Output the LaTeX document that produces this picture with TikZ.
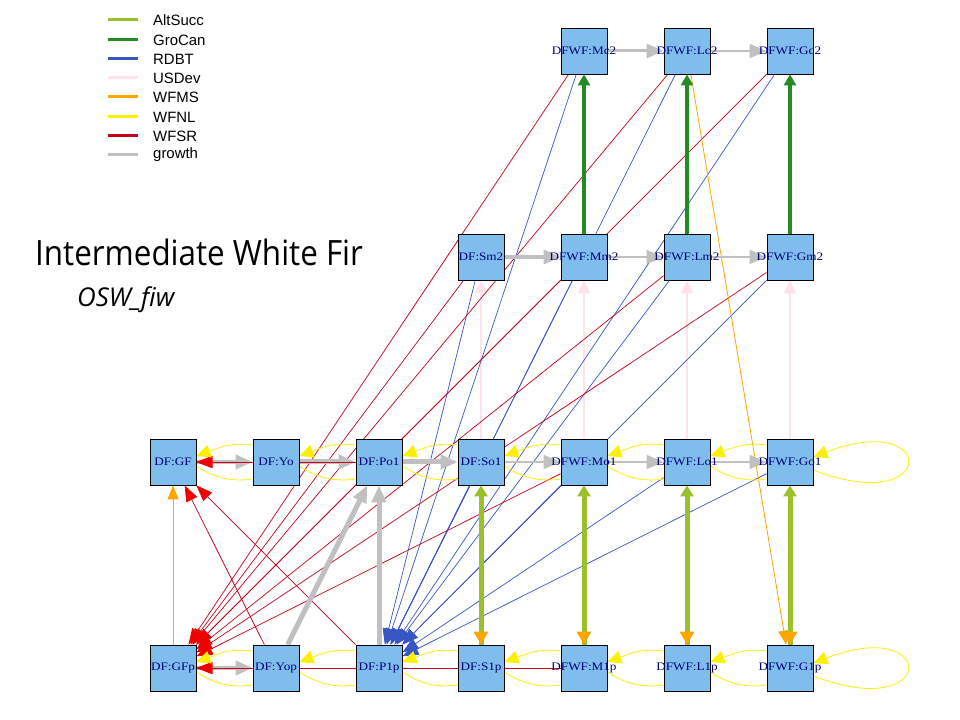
\documentclass[tikz,border=0pt]{standalone}
\usepackage{fontspec}
\usetikzlibrary{arrows.meta,calc}
\newfontfamily\nodefont[FakeStretch=1.15]{Liberation Serif}
\newfontfamily\legfont{Liberation Sans}
\newfontfamily\titlefont[FakeStretch=0.9]{Open Sans}
\newfontfamily\subfont{Open Sans}
\definecolor{boxfill}{RGB}{127,189,236}
\definecolor{boxtext}{RGB}{0,0,120}
\definecolor{cAlt}{RGB}{154,193,44}
\definecolor{cGro}{RGB}{34,139,34}
\definecolor{cRdbt}{RGB}{55,85,195}
\definecolor{cUsd}{RGB}{255,226,234}
\definecolor{cWfms}{RGB}{255,165,0}
\definecolor{cWfnl}{RGB}{250,240,0}
\definecolor{cWfsr}{RGB}{200,0,25}
\definecolor{cWfsrTip}{RGB}{240,0,0}
\definecolor{cGrowth}{RGB}{192,192,192}
\pgfdeclarelayer{bg}
\pgfsetlayers{bg,main}
\newcommand\nl[1]{\makebox[0pt][c]{#1}}
\newcommand\ylens[2]{%
  \draw[wfnltip] ($(#1.west)+(0,17)$) .. controls +(-22,3) and +(22,8) .. ($(#2.east)+(0,6)$);
  \draw[wfnl] ($(#2.east)+(0,-4)$) .. controls +(18,-12) and +(-20,-3) .. ($(#1.west)+(0,-17)$);
}
\newcommand\yloop[1]{%
  \draw[wfnltip] ($(#1.east)+(0,-8)$) .. controls +(125,-48) and +(125,48) .. ($(#1.east)+(0,5)$);
}
\begin{document}
\begin{tikzpicture}[x=1bp,y=1bp,
  box/.style={draw=black, line width=0.8bp, fill=boxfill, minimum width=46bp, minimum height=46bp, inner sep=0pt, text=boxtext, font=\nodefont\fontsize{11.5}{12}\selectfont},
  growth/.style={draw=cGrowth, -{Triangle[length=17bp,width=14bp]}},
  wfnl/.style={draw=cWfnl, line width=0.8bp},
  wfnltip/.style={wfnl, -{Triangle[length=14bp,width=13bp]}},
  wfsr/.style={draw=cWfsr, line width=0.7bp, -{Triangle[length=16bp,width=12bp,color=cWfsrTip]}},
  rdbt/.style={draw=cRdbt, line width=0.7bp, -{Triangle[length=16bp,width=12bp]}},
  usdev/.style={draw=cUsd, line width=2bp, -{Triangle[length=13bp,width=12bp]}},
  wfmsthin/.style={draw=cWfms, line width=0.8bp, -{Triangle[length=14bp,width=11bp]}},
  wfmsthick/.style={draw=cWfms, line width=4bp, -{Triangle[length=13bp,width=14bp]}},
  altsucc/.style={draw=cAlt, line width=5bp, -{Triangle[length=11bp,width=13bp]}},
  grocan/.style={draw=cGro, line width=3.5bp, -{Triangle[length=11bp,width=12bp]}},
  leglab/.style={anchor=west, font=\legfont\fontsize{15}{17}\selectfont, inner sep=0pt},
  legline/.style={line width=3bp}
]
\useasboundingbox (0,0) rectangle (960,720);

% title
\node[anchor=base west, inner sep=0pt, font=\titlefont\fontsize{35}{40}\selectfont] (title) at (35,454) {Intermediate White Fir};
\node[anchor=base west, inner sep=0pt, font=\subfont\itshape\fontsize{26}{30}\selectfont] (subtitle) at (77,413) {OSW\_fiw};

% legend
\draw[legline, cAlt] (108,700) -- (138,700);
\node[leglab] (l1) at (153,700) {AltSucc};
\draw[legline, cGro] (108,680) -- (138,680);
\node[leglab] (l2) at (153,680) {GroCan};
\draw[legline, cRdbt] (108,661) -- (138,661);
\node[leglab] (l3) at (153,661) {RDBT};
\draw[legline, cUsd] (108,642) -- (138,642);
\node[leglab] (l4) at (153,642) {USDev};
\draw[legline, cWfms] (108,623) -- (138,623);
\node[leglab] (l5) at (153,623) {WFMS};
\draw[legline, cWfnl] (108,603) -- (138,603);
\node[leglab] (l6) at (153,603) {WFNL};
\draw[legline, cWfsr] (108,584) -- (138,584);
\node[leglab] (l7) at (153,584) {WFSR};
\draw[legline, cGrowth] (108,565) -- (138,565);
\node[leglab] (l8) at (153,565) {growth};

% nodes
\node[box] (Mc2) at (584,669) {\nl{DFWF:Mc2}};
\node[box] (Lc2) at (687,669) {\nl{DFWF:Lc2}};
\node[box] (Gc2) at (790,669) {\nl{DFWF:Gc2}};

\node[box] (Sm2) at (481,463) {\nl{DF:Sm2}};
\node[box] (Mm2) at (584,463) {\nl{DFWF:Mm2}};
\node[box] (Lm2) at (687,463) {\nl{DFWF:Lm2}};
\node[box] (Gm2) at (790,463) {\nl{DFWF:Gm2}};

\node[box] (GF)  at (173,258) {\nl{DF:GF}};
\node[box] (Yo)  at (276,258) {\nl{DF:Yo}};
\node[box] (Po1) at (379,258) {\nl{DF:Po1}};
\node[box] (So1) at (481,258) {\nl{DF:So1}};
\node[box] (Mo1) at (584,258) {\nl{DFWF:Mo1}};
\node[box] (Lo1) at (687,258) {\nl{DFWF:Lo1}};
\node[box] (Go1) at (790,258) {\nl{DFWF:Go1}};

\node[box] (GFp) at (173,52) {\nl{DF:GFp}};
\node[box] (Yop) at (276,52) {\nl{DF:Yop}};
\node[box] (P1p) at (379,52) {\nl{DF:P1p}};
\node[box] (S1p) at (481,52) {\nl{DF:S1p}};
\node[box] (M1p) at (584,52) {\nl{DFWF:M1p}};
\node[box] (L1p) at (687,52) {\nl{DFWF:L1p}};
\node[box] (G1p) at (790,52) {\nl{DFWF:G1p}};

\begin{pgfonlayer}{bg}
% USDev
\draw[usdev] (So1) -- (Sm2);
\draw[usdev] (Mo1) -- (Mm2);
\draw[usdev] (Lo1) -- (Lm2);
\draw[usdev] (Go1) -- (Gm2);
% RDBT
\foreach \s in {Mc2,Lc2,Gc2,Sm2,Mm2,Lm2,Gm2,So1,Mo1,Lo1,Go1}
  \draw[rdbt] (\s) -- (P1p);
% WFSR
\foreach \s in {Mc2,Lc2,Gc2,Sm2,Mm2,Lm2,Gm2,Mo1}
  \draw[wfsr] (\s) -- (GFp);
\draw[wfsr] (Yop) -- (GF);
\draw[wfsr] (P1p) -- (GF);
% WFMS thin
\draw[wfmsthin] (GFp) -- (GF);
\draw[wfmsthin] (Lc2) -- (G1p);
% growth
\draw[growth, line width=4bp] (GF) -- (Yo);
\draw[growth, line width=5bp] (Yo) -- (Po1);
\draw[growth, line width=5bp] (Po1) -- (So1);
\draw[growth, line width=1.5bp] (So1) -- (Mo1);
\draw[growth, line width=1.5bp] (Mo1) -- (Lo1);
\draw[growth, line width=1.5bp] (Lo1) -- (Go1);
\draw[growth, line width=4bp] (GFp) -- (Yop);
\draw[growth, line width=5bp] (Yop) -- (Po1);
\draw[growth, line width=5bp] (P1p) -- (Po1);
\draw[growth, line width=3.5bp] (Sm2) -- (Mm2);
\draw[growth, line width=1.5bp] (Mm2) -- (Lm2);
\draw[growth, line width=1.5bp] (Lm2) -- (Gm2);
\draw[growth, line width=3bp] (Mc2) -- (Lc2);
\draw[growth, line width=1.5bp] (Lc2) -- (Gc2);
% WFSR along rows
\draw[wfsr] (Po1) -- (GF);
\draw[wfsr] (Yo) -- (GF);
\draw[wfsr] (M1p) -- (GFp);
\draw[wfsr] (Yop) -- (GFp);
% AltSucc and WFMS thick
\foreach \a/\b in {S1p/So1,M1p/Mo1,L1p/Lo1,G1p/Go1}{
  \draw[altsucc] (\a) -- (\b);
  \draw[wfmsthick, shorten <=147bp] (\b) -- (\a);
}
% GroCan
\draw[grocan] (Mm2) -- (Mc2);
\draw[grocan] (Lm2) -- (Lc2);
\draw[grocan] (Gm2) -- (Gc2);
% WFNL
\ylens{Yo}{GF}
\ylens{Po1}{Yo}
\ylens{So1}{Po1}
\ylens{Mo1}{So1}
\ylens{Lo1}{Mo1}
\ylens{Go1}{Lo1}
\ylens{Yop}{GFp}
\ylens{P1p}{Yop}
\ylens{S1p}{P1p}
\ylens{M1p}{S1p}
\ylens{L1p}{M1p}
\ylens{G1p}{L1p}
\yloop{Go1}
\yloop{G1p}
\end{pgfonlayer}
\end{tikzpicture}
\end{document}
